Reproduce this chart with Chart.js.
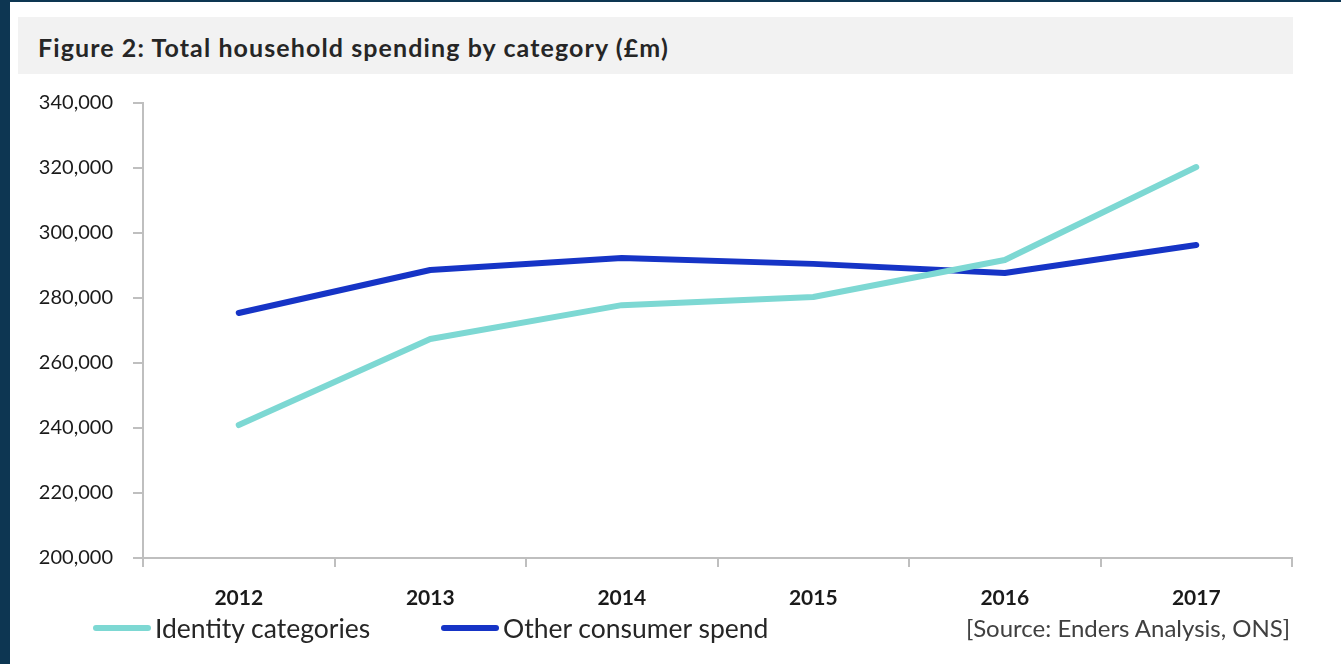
<!DOCTYPE html>
<html>
<head>
<meta charset="utf-8">
<script src="https://cdn.jsdelivr.net/npm/chart.js@4"></script>
<style>
  html, body { margin: 0; padding: 0; }
  body { width: 1341px; height: 664px; background: #0d3652; position: relative; overflow: hidden; font-family: Lato, "Open Sans", sans-serif; }
  #panel { position: absolute; left: 10px; top: 2px; right: 0; bottom: 0; background: #ffffff; }
  #titleBand { position: absolute; left: 18px; top: 17px; width: 1275px; height: 57px; background: #f2f2f2; }
  #title { position: absolute; left: 38px; top: 30px; height: 34px; line-height: 34px; font-size: 25px; letter-spacing: 1.1px; font-weight: bold; color: #262626; white-space: nowrap; }
  #wrap { position: absolute; left: 0; top: 0; width: 1341px; height: 664px; }
  .leg { position: absolute; top: 612px; height: 32px; line-height: 32px; font-size: 26.5px; color: #262626; white-space: nowrap; display: flex; align-items: center; }
  .swatch { display: inline-block; width: 58px; height: 6px; border-radius: 3px; margin-right: 4px; }
  #source { position: absolute; right: 51px; top: 613px; height: 30px; line-height: 30px; font-size: 24px; color: #404040; white-space: nowrap; }
</style>
</head>
<body>
<div id="panel"></div>
<div id="titleBand"></div>
<div id="title">Figure 2: Total household spending by category (£m)</div>
<div id="wrap"><canvas id="chart" width="1341" height="664"></canvas></div>
<div class="leg" style="left:93px"><span class="swatch" style="background:#7dd8d3"></span>Identity categories</div>
<div class="leg" style="left:441px"><span class="swatch" style="background:#1634c6"></span>Other consumer spend</div>
<div id="source">[Source: Enders Analysis, ONS]</div>
<script>
var years = ['2012', '2013', '2014', '2015', '2016', '2017'];
var identityCategories = [240900, 267400, 277800, 280300, 291700, 320300];
var otherConsumerSpend = [275400, 288600, 292300, 290500, 287700, 296300];
var yTicks = [200000, 220000, 240000, 260000, 280000, 300000, 320000, 340000];

var ctx = document.getElementById('chart').getContext('2d');
var myChart = new Chart(ctx, {
    type: 'line',
    data: {
        labels: years,
        datasets: [{
            label: 'Identity categories',
            data: identityCategories,
            borderColor: '#7dd8d3',
            borderWidth: 6,
            borderCapStyle: 'round',
            borderJoinStyle: 'round',
            pointRadius: 0,
            tension: 0
        }, {
            label: 'Other consumer spend',
            data: otherConsumerSpend,
            borderColor: '#1634c6',
            borderWidth: 6,
            borderCapStyle: 'round',
            borderJoinStyle: 'round',
            pointRadius: 0,
            tension: 0
        }]
    },
    options: {
        responsive: false,
        animation: false,
        layout: {
            padding: { top: 103, right: 49, bottom: 0, left: 0 }
        },
        plugins: {
            legend: { display: false },
            tooltip: { enabled: false }
        },
        scales: {
            x: {
                offset: true,
                grid: {
                    offset: true,
                    drawOnChartArea: false,
                    tickLength: 9,
                    color: '#bfbfbf',
                    lineWidth: 2
                },
                border: { color: '#bfbfbf', width: 2 },
                ticks: {
                    padding: 19,
                    color: '#1a1a1a',
                    font: { family: 'Lato', size: 21, weight: 'bold' },
                    maxRotation: 0
                },
                afterFit: function(scale) { scale.height = 106; }
            },
            y: {
                min: 200000,
                max: 340000,
                afterBuildTicks: function(scale) {
                    scale.ticks = yTicks.map(function(v) { return { value: v }; });
                },
                grid: {
                    drawOnChartArea: false,
                    tickLength: 10,
                    color: '#bfbfbf',
                    lineWidth: 2
                },
                border: { color: '#bfbfbf', width: 2 },
                ticks: {
                    padding: 20,
                    color: '#1a1a1a',
                    font: { family: 'Lato', size: 20 },
                    callback: function(v) { return v.toLocaleString('en-GB'); }
                },
                afterFit: function(scale) { scale.width = 143; }
            }
        }
    }
});
</script>
</body>
</html>
